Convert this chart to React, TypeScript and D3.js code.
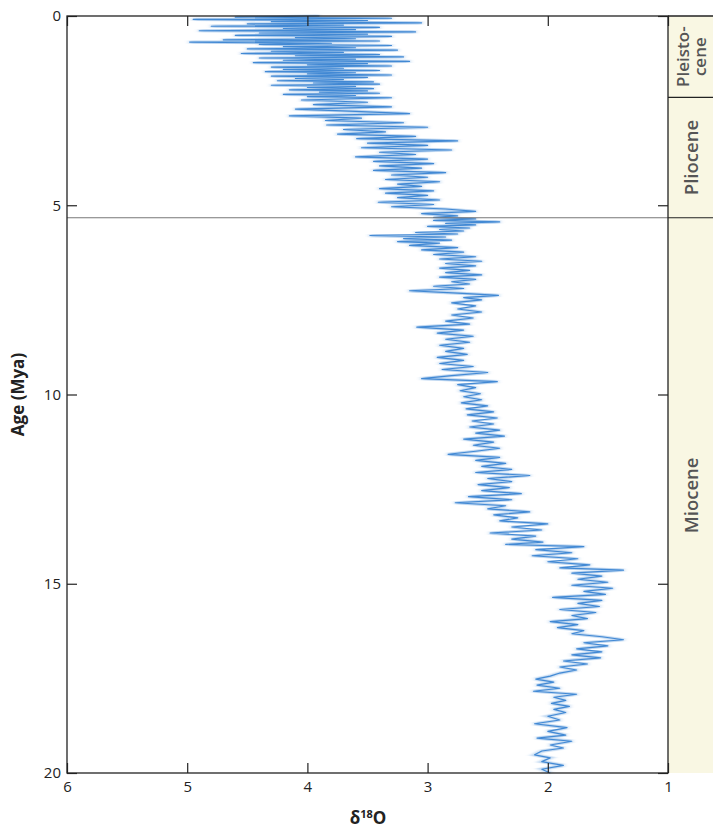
import React, { useEffect, useRef } from "react";
import * as d3 from "d3";

// [age (Mya), d18O], split per epoch
const pleistoceneRecord: [number, number][] = [
  [0.0, 3.9], [0.03, 4.6], [0.06, 3.3], [0.09, 4.95], [0.12, 3.5], [0.15, 4.3],
  [0.18, 3.05], [0.21, 4.5], [0.24, 3.7], [0.27, 4.8], [0.3, 3.4], [0.33, 4.2],
  [0.36, 3.6], [0.39, 4.9], [0.42, 3.1], [0.45, 4.4], [0.48, 3.5], [0.51, 4.6],
  [0.54, 3.3], [0.57, 4.1], [0.6, 3.6], [0.63, 4.7], [0.66, 3.4], [0.69, 4.98],
  [0.72, 3.8], [0.75, 4.4], [0.78, 3.3], [0.81, 4.2], [0.84, 3.6], [0.87, 4.5],
  [0.9, 3.25], [0.93, 4.3], [0.96, 3.7], [0.99, 4.55], [1.02, 3.4], [1.05, 4.1],
  [1.08, 3.2], [1.11, 4.4], [1.14, 3.6], [1.17, 4.2], [1.2, 3.15], [1.23, 4.45],
  [1.26, 3.5], [1.29, 4.0], [1.32, 3.3], [1.35, 4.3], [1.38, 3.7], [1.41, 4.2],
  [1.44, 3.4], [1.47, 4.35], [1.5, 3.6], [1.53, 4.0], [1.56, 3.3], [1.59, 4.3],
  [1.62, 3.5], [1.65, 4.1], [1.68, 3.7], [1.71, 4.25], [1.74, 3.45], [1.77, 3.95],
  [1.8, 3.4], [1.83, 4.3], [1.86, 3.6], [1.89, 4.0], [1.92, 3.45], [1.95, 4.15],
  [1.98, 3.5], [2.01, 3.9], [2.04, 3.4], [2.07, 4.2], [2.1, 3.6], [2.13, 4.0],
];

const plioceneRecord: [number, number][] = [
  [2.16, 3.3], [2.22, 4.05], [2.28, 3.5], [2.34, 3.95], [2.4, 3.3], [2.46, 4.1],
  [2.52, 3.6], [2.58, 3.15], [2.64, 4.15], [2.7, 3.55], [2.76, 3.85], [2.82, 3.2],
  [2.88, 3.84], [2.94, 3.0], [3.0, 3.7], [3.06, 3.35], [3.12, 3.75], [3.18, 3.1],
  [3.24, 3.59], [3.3, 2.75], [3.36, 3.5], [3.42, 3.0], [3.48, 3.55], [3.54, 2.8],
  [3.6, 3.4], [3.66, 3.1], [3.72, 3.6], [3.78, 3.0], [3.84, 3.45], [3.9, 2.95],
  [3.96, 3.4], [4.02, 3.05], [4.08, 3.45], [4.14, 2.85], [4.2, 3.3], [4.26, 3.0],
  [4.32, 3.35], [4.38, 2.9], [4.44, 3.25], [4.5, 3.05], [4.56, 3.4], [4.62, 2.95],
  [4.68, 3.35], [4.74, 3.0], [4.8, 3.25], [4.86, 2.9], [4.92, 3.41], [4.98, 2.95],
  [5.04, 3.3], [5.1, 2.85], [5.16, 2.6], [5.22, 3.05], [5.28, 2.75], [5.32, 2.95],
];

const mioceneRecord: [number, number][] = [
  [5.36, 2.6], [5.4, 2.95], [5.44, 2.4], [5.48, 2.85], [5.52, 2.6], [5.56, 3.0],
  [5.6, 2.65], [5.64, 2.9], [5.68, 2.7], [5.72, 3.1], [5.76, 2.75], [5.8, 3.48],
  [5.84, 2.85], [5.88, 3.2], [5.92, 2.8], [5.96, 3.25], [6.0, 2.9], [6.06, 3.15],
  [6.12, 2.75], [6.18, 3.05], [6.24, 2.7], [6.3, 2.95], [6.36, 2.6], [6.42, 2.9],
  [6.48, 2.55], [6.54, 2.85], [6.6, 2.6], [6.66, 2.9], [6.72, 2.65], [6.78, 2.85],
  [6.84, 2.55], [6.9, 2.9], [6.96, 2.6], [7.02, 2.8], [7.08, 2.65], [7.14, 2.95],
  [7.2, 2.7], [7.26, 3.15], [7.32, 2.75], [7.38, 2.41], [7.44, 2.7], [7.5, 2.55],
  [7.58, 2.8], [7.66, 2.6], [7.74, 2.75], [7.82, 2.55], [7.9, 2.8], [7.98, 2.62],
  [8.06, 2.85], [8.14, 2.65], [8.22, 3.09], [8.3, 2.7], [8.38, 2.92], [8.46, 2.62],
  [8.54, 2.85], [8.62, 2.65], [8.7, 2.9], [8.78, 2.7], [8.86, 2.85], [8.94, 2.67],
  [9.02, 2.92], [9.1, 2.7], [9.18, 2.9], [9.26, 2.62], [9.34, 2.88], [9.42, 2.5],
  [9.5, 2.8], [9.58, 3.05], [9.66, 2.42], [9.74, 2.75], [9.82, 2.6], [9.9, 2.73],
  [9.98, 2.56], [10.06, 2.7], [10.14, 2.55], [10.22, 2.72], [10.3, 2.5], [10.38, 2.68],
  [10.46, 2.45], [10.54, 2.67], [10.62, 2.42], [10.7, 2.63], [10.78, 2.45], [10.86, 2.65],
  [10.94, 2.4], [11.02, 2.6], [11.1, 2.36], [11.18, 2.7], [11.26, 2.45], [11.34, 2.62],
  [11.42, 2.4], [11.5, 2.6], [11.58, 2.83], [11.66, 2.4], [11.74, 2.6], [11.82, 2.35],
  [11.9, 2.55], [11.98, 2.3], [12.06, 2.6], [12.14, 2.15], [12.22, 2.5], [12.3, 2.3],
  [12.38, 2.58], [12.46, 2.32], [12.54, 2.55], [12.62, 2.22], [12.7, 2.66], [12.78, 2.3],
  [12.86, 2.77], [12.94, 2.35], [13.02, 2.5], [13.1, 2.15], [13.18, 2.45], [13.26, 2.25],
  [13.34, 2.4], [13.42, 2.0], [13.5, 2.3], [13.58, 2.05], [13.66, 2.48], [13.74, 2.1],
  [13.82, 2.3], [13.9, 2.04], [13.96, 2.35], [14.02, 1.7], [14.1, 2.1], [14.18, 1.8],
  [14.26, 2.13], [14.34, 1.75], [14.42, 2.0], [14.5, 1.65], [14.58, 1.9], [14.64, 1.37],
  [14.72, 1.8], [14.8, 1.55], [14.88, 1.75], [14.96, 1.5], [15.04, 1.8], [15.12, 1.46],
  [15.2, 1.7], [15.28, 1.52], [15.36, 1.96], [15.44, 1.55], [15.52, 1.75], [15.6, 1.57],
  [15.68, 1.9], [15.76, 1.6], [15.84, 1.8], [15.92, 1.67], [16.0, 1.98], [16.08, 1.75],
  [16.16, 1.92], [16.24, 1.7], [16.32, 1.8], [16.4, 1.55], [16.48, 1.37], [16.56, 1.7],
  [16.64, 1.5], [16.72, 1.76], [16.8, 1.55], [16.88, 1.8], [16.96, 1.56], [17.04, 1.87],
  [17.12, 1.67], [17.2, 1.9], [17.28, 1.76], [17.36, 1.9], [17.44, 1.98], [17.52, 2.1],
  [17.6, 1.95], [17.68, 2.09], [17.76, 1.9], [17.84, 2.12], [17.92, 1.76], [18.0, 1.95],
  [18.08, 1.85], [18.16, 1.97], [18.24, 1.82], [18.32, 1.95], [18.4, 1.85], [18.5, 2.0],
  [18.6, 1.9], [18.7, 2.11], [18.8, 1.84], [18.9, 2.0], [19.0, 1.85], [19.08, 2.09],
  [19.16, 1.8], [19.26, 1.98], [19.34, 1.87], [19.42, 2.05], [19.52, 2.11], [19.6, 1.98],
  [19.7, 2.05], [19.8, 1.87], [19.9, 2.05], [20.0, 1.98],
];

const epochs = [
  { name: ["Pleisto-", "cene"], start: 0, end: 2.15 },
  { name: ["Pliocene"], start: 2.15, end: 5.33 },
  { name: ["Miocene"], start: 5.33, end: 20 },
];
const ageTicks = [0, 5, 10, 15, 20];
const isoTicks = [6, 5, 4, 3, 2, 1];
const mioPlioBoundary = 5.33;

const left = 67, right = 668, top = 16, bottom = 773, panelRight = 713;
const font = "'Open Sans', sans-serif";

export default function App() {
  const svgRef = useRef<SVGSVGElement>(null);

  useEffect(() => {
    const svg = d3.select(svgRef.current);
    const x = d3.scaleLinear().domain([6, 1]).range([left, right]);
    const y = d3.scaleLinear().domain([0, 20]).range([top, bottom]);
    const record = [...pleistoceneRecord, ...plioceneRecord, ...mioceneRecord];

    const line = d3
      .line<[number, number]>()
      .x((d) => x(d[1]))
      .y((d) => y(d[0]));

    const g = svg.select(".plot");
    g.selectAll("*").remove();

    g.append("path")
      .attr("d", line(record))
      .attr("fill", "none")
      .attr("stroke", "#8fb9e6")
      .attr("stroke-width", 3.2)
      .attr("opacity", 0.6)
      .attr("filter", "url(#smear)");
    g.append("path")
      .attr("d", line(record))
      .attr("fill", "none")
      .attr("stroke", "#4289d4")
      .attr("stroke-width", 1.15)
      .attr("stroke-linejoin", "round");

    // boundary line
    g.append("line")
      .attr("x1", left).attr("x2", right)
      .attr("y1", y(mioPlioBoundary)).attr("y2", y(mioPlioBoundary))
      .attr("stroke", "#777").attr("stroke-width", 1.2);

    // epoch panel
    const ep = svg.select(".epochs");
    ep.selectAll("*").remove();
    ep.append("rect")
      .attr("x", right).attr("y", top)
      .attr("width", panelRight - right).attr("height", bottom - top)
      .attr("fill", "#f9f7e3");
    epochs.forEach((e) => {
      if (e.start > 0) {
        ep.append("line")
          .attr("x1", right).attr("x2", panelRight)
          .attr("y1", y(e.start)).attr("y2", y(e.start))
          .attr("stroke", "#222").attr("stroke-width", 1.2);
      }
      const cy = (y(e.start) + y(e.end)) / 2;
      const cx = (right + panelRight) / 2 + 1;
      const t = ep.append("text")
        .attr("transform", `translate(${cx},${cy}) rotate(-90)`)
        .attr("text-anchor", "middle")
        .attr("font-family", font)
        .attr("font-weight", 600)
        .attr("font-size", e.name.length > 1 ? 17 : 18.5)
        .attr("fill", "#555");
      const n = e.name.length;
      e.name.forEach((s, i) => {
        t.append("tspan")
          .attr("x", 0)
          .attr("y", (i - (n - 1) / 2) * 17 + 6)
          .text(s);
      });
    });
    ep.append("line")
      .attr("x1", right).attr("x2", panelRight)
      .attr("y1", top).attr("y2", top)
      .attr("stroke", "#222").attr("stroke-width", 1.3);

    // axes
    const styleAxis = (sel: any) => {
      sel.select(".domain").remove();
      sel.selectAll("line").attr("stroke", "#222").attr("stroke-width", 1.2);
      sel.selectAll("text")
        .attr("font-family", font)
        .attr("font-size", 15)
        .attr("fill", "#222");
    };

    svg.select<SVGGElement>(".x-bottom")
      .attr("transform", `translate(0,${bottom})`)
      .call(d3.axisBottom(x).tickValues(isoTicks).tickFormat(d3.format("d")).tickSizeInner(-10).tickSizeOuter(0).tickPadding(8))
      .call(styleAxis);
    svg.select<SVGGElement>(".x-top")
      .attr("transform", `translate(0,${top})`)
      .call(d3.axisTop(x).tickValues(isoTicks).tickSizeInner(-10).tickSizeOuter(0).tickFormat(() => ""))
      .call(styleAxis);
    svg.select<SVGGElement>(".y-left")
      .attr("transform", `translate(${left},0)`)
      .call(d3.axisLeft(y).tickValues(ageTicks).tickSizeInner(-10).tickSizeOuter(0).tickPadding(6))
      .call(styleAxis);
    svg.select<SVGGElement>(".y-right")
      .attr("transform", `translate(${right},0)`)
      .call(d3.axisRight(y).tickValues(ageTicks).tickSizeInner(-10).tickSizeOuter(0).tickFormat(() => ""))
      .call(styleAxis);
  }, []);

  return (
    <svg
      ref={svgRef}
      width={713}
      height={829}
      style={{ position: "absolute", left: 0, top: 0, background: "white" }}
    >
      <defs>
        <filter id="smear" x="-10%" y="-10%" width="120%" height="120%">
          <feGaussianBlur stdDeviation="2.4 0.5" />
        </filter>
      </defs>
      <g className="plot" />
      <g className="epochs" />
      <rect x={left} y={top} width={right - left} height={bottom - top} fill="none" stroke="#222" strokeWidth={1.3} />
      <g className="x-bottom" />
      <g className="x-top" />
      <g className="y-left" />
      <g className="y-right" />
      <text
        x={368}
        y={824}
        textAnchor="middle"
        fontFamily={font}
        fontWeight={700}
        fontSize={17}
        fill="#222"
      >
        δ<tspan fontSize={11} dy={-6}>18</tspan>
        <tspan dy={6}>O</tspan>
      </text>
      <text
        transform={`translate(24,${(top + bottom) / 2}) rotate(-90)`}
        textAnchor="middle"
        fontFamily={font}
        fontWeight={700}
        fontSize={17}
        fill="#222"
      >
        Age (Mya)
      </text>
    </svg>
  );
}
